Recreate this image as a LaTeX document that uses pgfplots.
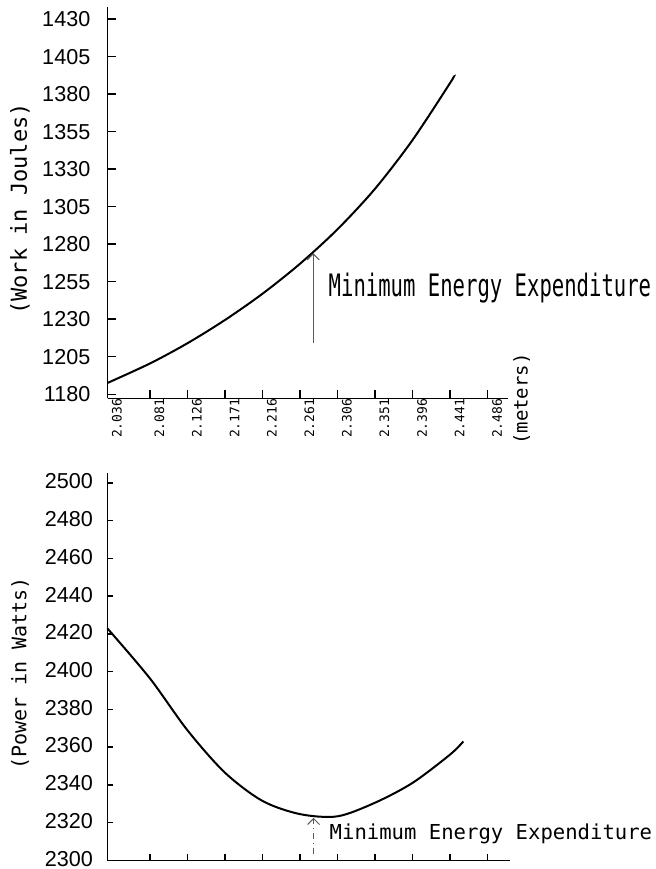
\documentclass[border=0pt]{standalone}
\usepackage{pgfplots}
\pgfplotsset{compat=1.18}
\usepackage{fontspec}
\setmainfont{Liberation Sans}
\newfontfamily\monofont{DejaVu Sans Mono}
\usetikzlibrary{arrows.meta}

\begin{document}
\begin{tikzpicture}
\path[use as bounding box] (0,0) rectangle (327.5pt,434.5pt);

\pgfplotsset{
  myaxis/.style={
    scale only axis,
    axis lines=left,
    axis line style={-, line width=0.7pt, black},
    tick align=inside,
    major tick length=4pt,
    tick style={line width=0.7pt, black},
    /pgf/number format/assume math mode=true,
    /pgf/number format/1000 sep={},
    clip=false,
  }
}

% ---------- upper panel: work ----------
\begin{axis}[myaxis,
  at={(53.75pt,235.35pt)}, anchor=south west,
  width=200.25pt, height=195.65pt,
  xmin=2.0300, xmax=2.5104, ymin=1177.27, ymax=1438.1,
  xtick={2.0300,2.081,2.126,2.171,2.216,2.261,2.306,2.351,2.396,2.441,2.486},
  xticklabels={2.036,2.081,2.126,2.171,2.216,2.261,2.306,2.351,2.396,2.441,2.486},
  xticklabel style={rotate=90, anchor=east, inner sep=0pt, yshift=-4.7pt,
    font=\monofont\fontsize{6.5}{7}\selectfont},
  ytick={1180,1205,1230,1255,1280,1305,1330,1355,1380,1405,1430},
  yticklabel style={anchor=east, inner sep=0pt, xshift=-8.4pt,
    font=\fontsize{10.8}{12}\selectfont},
]
\addplot[black, line width=1pt, smooth] coordinates {
  (2.0300,1187.5) (2.081,1200.5) (2.126,1214) (2.171,1229.5)
  (2.216,1247) (2.261,1267) (2.306,1290) (2.351,1317)
  (2.396,1349.5) (2.441,1387.5) (2.4448,1391.5)
};
\draw[gray!70!black, line width=0.5pt, -{Straight Barb[length=3pt,width=6pt]}]
  (axis cs:2.2768,1213.9) -- (axis cs:2.2768,1274);
\end{axis}

% ---------- lower panel: power ----------
\begin{axis}[myaxis,
  at={(53.65pt,4.35pt)}, anchor=south west,
  width=201.35pt, height=193.65pt,
  xmin=2.0300, xmax=2.5130, ymin=2300, ymax=2505.3,
  xtick={2.081,2.126,2.171,2.216,2.261,2.306,2.351,2.396,2.441,2.486},
  xticklabels={},
  ytick={2300,2320,2340,2360,2380,2400,2420,2440,2460,2480,2500},
  major tick length=3pt,
  yticklabel style={anchor=east, inner sep=0pt, xshift=-7pt, yshift=0.8pt,
    font=\fontsize{10.8}{12}\selectfont},
]
\addplot[black, line width=1pt, smooth] coordinates {
  (2.0300,2423) (2.081,2396.5) (2.126,2369) (2.171,2346.5)
  (2.216,2331.5) (2.261,2324.5) (2.306,2323.3)
  (2.351,2330.5) (2.396,2341) (2.441,2356) (2.457,2363)
};
\draw[gray!70!black, line width=0.5pt, dash dot, -{Straight Barb[length=3pt,width=6pt]}]
  (axis cs:2.2774,2303.4) -- (axis cs:2.2774,2322.5);
\end{axis}

% ---------- labels ----------
\node[rotate=90, inner sep=0pt, font=\monofont\fontsize{11}{13}\selectfont]
  at (10pt,330pt) {(Work in Joules)};
\node[rotate=90, inner sep=0pt, font=\monofont\fontsize{10}{12}\selectfont]
  at (10pt,97.75pt) {(Power in Watts)};
\node[rotate=90, inner sep=0pt, font=\monofont\fontsize{9.5}{11}\selectfont]
  at (260.85pt,235pt) {(meters)};
\node[anchor=base west, inner sep=0pt, font=\monofont\fontsize{10.3}{12}\selectfont]
  at (164.15pt,286.15pt) {\scalebox{1}[1.5]{Minimum Energy Expenditure}};
\node[anchor=base west, inner sep=0pt, font=\monofont\fontsize{10.3}{12}\selectfont]
  at (164.65pt,14.85pt) {Minimum Energy Expenditure};
\end{tikzpicture}
\end{document}
